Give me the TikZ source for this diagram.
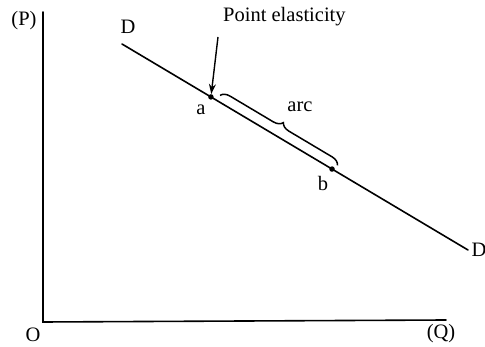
\documentclass[tikz,border=0pt]{standalone}
\usepackage{fontspec}
\setmainfont{Liberation Serif}
\usetikzlibrary{calc, positioning}
\usetikzlibrary{arrows.meta}
\usetikzlibrary{decorations.pathreplacing}

\begin{document}
\begin{tikzpicture}[x=1pt,y=-1pt,font=\fontsize{20.5}{24}\selectfont]
\tikzset{
  dot/.style={circle,fill=black,inner sep=0pt,minimum size=5.5pt},
  lbl/.style={inner sep=1pt},
  curve/.style={line width=1.6pt,line cap=round},
}
\useasboundingbox (0,0) rectangle (485,347);

% Price and quantity axes.
\coordinate (ptop) at (43,12);
\coordinate (orig) at (43,322);
\coordinate (qend) at (446,320);
\draw[curve] (ptop) -- (orig) -- (qend);
\node[lbl] (plbl) at (24,21) {(P)};
\node[lbl] (olbl) at (33,335) {O};
\node[lbl] (qlbl) at (441,334) {(Q)};

% Demand line with the two points.
\coordinate (dtop) at (122,44);
\coordinate (dbot) at (468,250);
\draw[curve] (dtop) -- (dbot);
\node[lbl] (dlbl) at (128,27) {D};
\node[lbl] (dlbr) at (479,250) {D};

\node[dot] (a) at ($(dtop)!0.257!(dbot)$) {};
\node[dot] (b) at ($(dtop)!0.607!(dbot)$) {};
\node[lbl] (albl) at (201,110) {a};
\node[lbl] (blbl) at (323,183) {b};

% Arc between a and b.
\draw[line width=1.5pt,decorate,decoration={brace,amplitude=9pt,raise=6pt}]
  ($(a)!0.05!(b)$) -- ($(a)!1.02!(b)$);
\node[lbl] (arclbl) at (300,107) {arc};

% Point elasticity at a.
\node[lbl,anchor=west] (pelbl) at (222,17) {Point elasticity};
\coordinate (petail) at (218,37);
\draw[line width=1.4pt,-{Stealth[length=10pt,width=7pt]}] (petail) -- (a);
\end{tikzpicture}
\end{document}
